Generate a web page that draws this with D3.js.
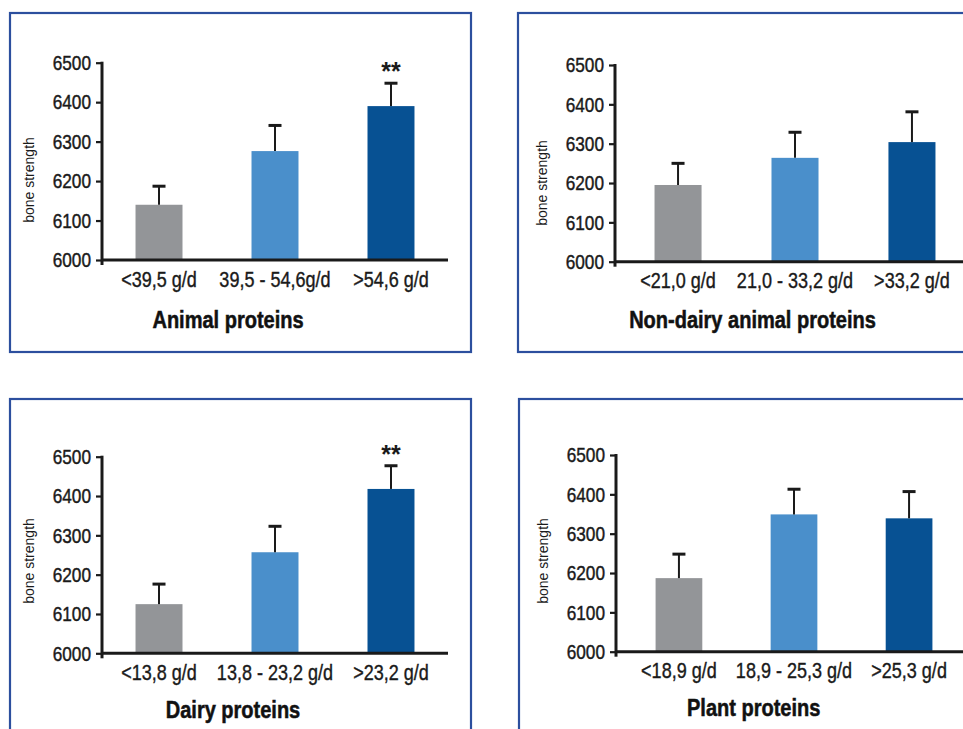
<!DOCTYPE html>
<html>
<head>
<meta charset="utf-8">
<script src="https://cdn.jsdelivr.net/npm/d3@7"></script>
<style>
  html, body { margin: 0; padding: 0; background: #ffffff; }
  svg { display: block; }
</style>
</head>
<body>
<script>
// ---------- DATA ----------
const yTicks = [6000, 6100, 6200, 6300, 6400, 6500];
const yLabel = "bone strength";

const animalTitle = "Animal proteins";
const animalCats = ["<39,5 g/d", "39,5 - 54,6g/d", ">54,6 g/d"];
const animalMeans = [6140, 6276, 6390];
const animalErrors = [47, 65, 58];
const animalSig = ["", "", "**"];

const nonDairyTitle = "Non-dairy animal proteins";
const nonDairyCats = ["<21,0 g/d", "21,0 - 33,2 g/d", ">33,2 g/d"];
const nonDairyMeans = [6195, 6264, 6304];
const nonDairyErrors = [55, 65, 77];
const nonDairySig = ["", "", ""];

const dairyTitle = "Dairy proteins";
const dairyCats = ["<13,8 g/d", "13,8 - 23,2 g/d", ">23,2 g/d"];
const dairyMeans = [6125, 6257, 6418];
const dairyErrors = [51, 66, 59];
const dairySig = ["", "", "**"];

const plantTitle = "Plant proteins";
const plantCats = ["<18,9 g/d", "18,9 - 25,3 g/d", ">25,3 g/d"];
const plantMeans = [6187, 6349, 6339];
const plantErrors = [61, 64, 68];
const plantSig = ["", "", ""];

const barColors = ["#939598", "#4a8fcb", "#075193"];

// ---------- LAYOUT ----------
const W = 963, H = 729;
const font = "'Liberation Sans', Arial, Helvetica, sans-serif";
const SX = 0.82;      // horizontal compression to emulate a condensed face
const SX_T = 0.87;    // title compression

const panels = [
  { title: animalTitle, cats: animalCats, means: animalMeans, errs: animalErrors, sig: animalSig,
    box: [10, 13, 461, 339], ax: 102, y0: 260, y1: 62.7, xLen: 346, pi: 0.595, po: 0.289,
    yLabY: 180, titleX: 228, titleY: 328 },
  { title: nonDairyTitle, cats: nonDairyCats, means: nonDairyMeans, errs: nonDairyErrors, sig: nonDairySig,
    box: [518, 13, 460, 339], ax: 615, y0: 261.7, y1: 65, xLen: 360, pi: 0.598, po: 0.338,
    yLabY: 183, titleX: 752.5, titleY: 328 },
  { title: dairyTitle, cats: dairyCats, means: dairyMeans, errs: dairyErrors, sig: dairySig,
    box: [10, 399, 461, 345], ax: 102, y0: 653.3, y1: 456.7, xLen: 346, pi: 0.595, po: 0.289,
    yLabY: 561, titleX: 233, titleY: 718 },
  { title: plantTitle, cats: plantCats, means: plantMeans, errs: plantErrors, sig: plantSig,
    box: [519, 399, 460, 345], ax: 616, y0: 651.7, y1: 455, xLen: 356, pi: 0.594, po: 0.344,
    yLabY: 561, titleX: 753.7, titleY: 716 }
];

const svg = d3.select("body").append("svg")
  .attr("width", W).attr("height", H)
  .attr("viewBox", `0 0 ${W} ${H}`);
svg.append("rect").attr("width", W).attr("height", H).attr("fill", "#fff");

function condense(sel, sx) {
  sel.each(function () {
    const t = d3.select(this);
    const x0 = +(t.attr("x") || 0);
    t.attr("x", x0 / sx).attr("transform", `scale(${sx},1)`);
  });
}

panels.forEach(p => {
  const g = svg.append("g");

  // frame
  g.append("rect")
    .attr("x", p.box[0]).attr("y", p.box[1])
    .attr("width", p.box[2]).attr("height", p.box[3])
    .attr("fill", "none").attr("stroke", "#2c4f9e").attr("stroke-width", 2.2);

  const y = d3.scaleLinear().domain([6000, 6500]).range([p.y0, p.y1]);
  const x = d3.scaleBand().domain(p.cats)
    .range([p.ax, p.ax + p.xLen])
    .paddingInner(p.pi).paddingOuter(p.po);

  const rows = p.cats.map((c, i) => ({ cat: c, mean: p.means[i], err: p.errs[i], sig: p.sig[i], color: barColors[i] }));

  // bars
  g.selectAll("rect.bar").data(rows).enter().append("rect")
    .attr("class", "bar")
    .attr("x", d => x(d.cat))
    .attr("y", d => y(d.mean))
    .attr("width", x.bandwidth())
    .attr("height", d => y(6000) - y(d.mean))
    .attr("fill", d => d.color);

  // error bars (upper only)
  const cx = d => x(d.cat) + x.bandwidth() / 2;
  g.selectAll("line.err").data(rows).enter().append("line")
    .attr("x1", cx).attr("x2", cx)
    .attr("y1", d => y(d.mean)).attr("y2", d => y(d.mean + d.err))
    .attr("stroke", "#1a1a1a").attr("stroke-width", 2);
  g.selectAll("line.cap").data(rows).enter().append("line")
    .attr("x1", d => cx(d) - 6.5).attr("x2", d => cx(d) + 6.5)
    .attr("y1", d => y(d.mean + d.err)).attr("y2", d => y(d.mean + d.err))
    .attr("stroke", "#1a1a1a").attr("stroke-width", 3);

  // significance marks
  g.selectAll("text.sig").data(rows.filter(d => d.sig)).enter().append("text")
    .attr("x", cx)
    .attr("y", d => y(d.mean + d.err) - 3)
    .attr("text-anchor", "middle")
    .attr("font-family", font).attr("font-weight", "bold").attr("font-size", 25)
    .attr("fill", "#1a1a1a")
    .text(d => d.sig);

  // y axis
  const yAxis = d3.axisLeft(y).tickValues(yTicks).tickSize(6).tickPadding(5).tickFormat(d3.format("d"));
  const ya = g.append("g").attr("transform", `translate(${p.ax},0)`).call(yAxis);
  ya.select(".domain").remove();
  ya.selectAll(".tick line").attr("stroke", "#1a1a1a").attr("stroke-width", 2.2);
  ya.selectAll(".tick text")
    .attr("font-family", font).attr("font-size", 21).attr("fill", "#1a1a1a")
    .attr("stroke", "#1a1a1a").attr("stroke-width", 0.45);
  condense(ya.selectAll(".tick text"), SX);
  g.append("line")
    .attr("x1", p.ax).attr("x2", p.ax)
    .attr("y1", y(6500) - 1).attr("y2", y(6000) + 5)
    .attr("stroke", "#1a1a1a").attr("stroke-width", 3);

  // x axis
  const xAxis = d3.axisBottom(x).tickSize(0).tickPadding(11);
  const xa = g.append("g").attr("transform", `translate(0,${p.y0})`).call(xAxis);
  xa.select(".domain").remove();
  xa.selectAll(".tick text")
    .attr("font-family", font).attr("font-size", 22).attr("fill", "#1a1a1a")
    .attr("stroke", "#1a1a1a").attr("stroke-width", 0.4);
  condense(xa.selectAll(".tick text"), SX);
  g.append("line")
    .attr("x1", p.ax - 1).attr("x2", p.ax + p.xLen)
    .attr("y1", p.y0).attr("y2", p.y0)
    .attr("stroke", "#1a1a1a").attr("stroke-width", 3);

  // y label
  g.append("text")
    .attr("transform", `translate(${p.ax - 68},${p.yLabY}) rotate(-90)`)
    .attr("text-anchor", "middle")
    .attr("font-family", font).attr("font-size", 14).attr("fill", "#1a1a1a")
    .text(yLabel);

  // title
  g.append("text")
    .attr("transform", `translate(${p.titleX},${p.titleY}) scale(${SX_T},1)`)
    .attr("text-anchor", "middle")
    .attr("font-family", font).attr("font-weight", "bold").attr("font-size", 23)
    .attr("fill", "#111").attr("stroke", "#111").attr("stroke-width", 0.5)
    .text(p.title);
});
</script>
</body>
</html>
